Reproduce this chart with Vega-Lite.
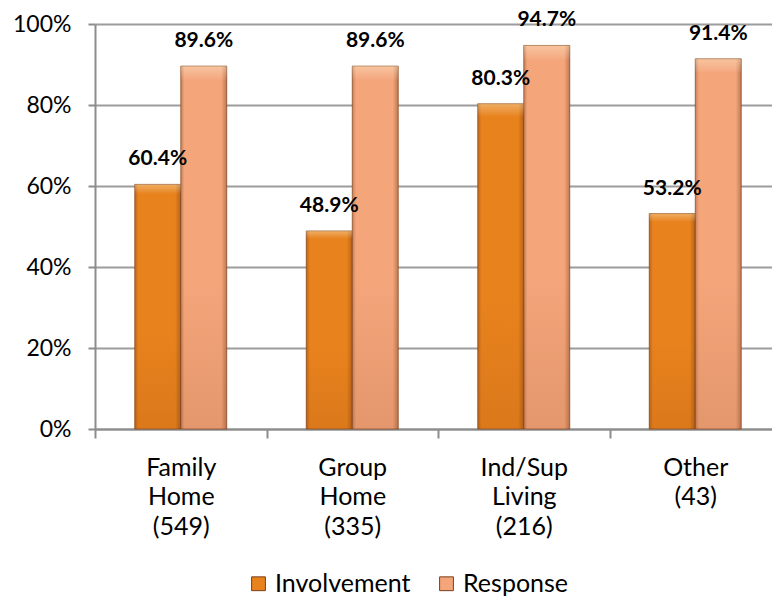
{
  "$schema": "https://vega.github.io/schema/vega-lite/v6.json",
  "width": 677,
  "height": 405,
  "autosize": {"type": "none"},
  "padding": {"left": 95, "top": 24, "right": 0, "bottom": 168},
  "background": "white",
  "config": {
    "font": "Lato",
    "view": {"stroke": null}
  },
  "data": {
    "values": [
      {"group": "Family Home (549)", "series": "Involvement", "value": 0.604},
      {"group": "Family Home (549)", "series": "Response", "value": 0.896},
      {"group": "Group Home (335)", "series": "Involvement", "value": 0.489},
      {"group": "Group Home (335)", "series": "Response", "value": 0.896},
      {"group": "Ind/Sup Living (216)", "series": "Involvement", "value": 0.803},
      {"group": "Ind/Sup Living (216)", "series": "Response", "value": 0.947},
      {"group": "Other (43)", "series": "Involvement", "value": 0.532},
      {"group": "Other (43)", "series": "Response", "value": 0.914}
    ]
  },
  "encoding": {
    "x": {
      "field": "group",
      "type": "nominal",
      "sort": null,
      "title": null,
      "scale": {"range": [0, 686], "paddingInner": 0, "paddingOuter": 0},
      "axis": {
        "labelAngle": 0,
        "labelExpr": "split(datum.label, ' ')",
        "labelFontSize": 25,
        "labelColor": "#000000",
        "labelLineHeight": 29.5,
        "labelBaseline": "top",
        "labelPadding": 17,
        "tickBand": "extent",
        "tickSize": 9,
        "tickWidth": 2,
        "tickColor": "#8c8c8c",
        "domainColor": "#8c8c8c",
        "domainWidth": 2,
        "grid": false
      }
    },
    "xOffset": {"field": "series", "type": "nominal", "scale": {"paddingInner": 0, "paddingOuter": 0.864}},
    "y": {
      "field": "value",
      "type": "quantitative",
      "title": null,
      "scale": {"domain": [0, 1], "nice": false},
      "axis": {
        "values": [0, 0.2, 0.4, 0.6, 0.8, 1],
        "format": ".0%",
        "labelFontSize": 23,
        "labelColor": "#000000",
        "labelPadding": 17,
        "tickSize": 7,
        "tickWidth": 2,
        "tickColor": "#8c8c8c",
        "domainColor": "#8c8c8c",
        "domainWidth": 2,
        "gridColor": "#9c9c9c",
        "gridWidth": 2
      }
    }
  },
  "layer": [
    {
      "mark": {"type": "bar", "stroke": "#8a4a22", "strokeWidth": 1, "strokeOpacity": 0.7},
      "encoding": {
        "color": {
          "field": "series",
          "type": "nominal",
          "title": null,
          "scale": {"domain": ["Involvement", "Response"], "range": ["#E8821D", "#F4A57A"]},
          "legend": {
            "orient": "none",
            "direction": "horizontal",
            "legendX": 151,
            "legendY": 547,
            "symbolType": "square",
            "symbolSize": 190,
            "symbolStrokeColor": "#7a3e1c",
            "symbolStrokeWidth": 1,
            "labelFontSize": 25,
            "labelColor": "#000000",
            "labelOffset": 4,
            "columnPadding": 23
          }
        }
      }
    },
    {
      "mark": {
        "type": "bar",
        "fill": {
          "gradient": "linear",
          "x1": 0, "y1": 0, "x2": 1, "y2": 0,
          "stops": [
            {"offset": 0, "color": "rgba(90,40,10,0.30)"},
            {"offset": 0.08, "color": "rgba(90,40,10,0.0)"},
            {"offset": 0.88, "color": "rgba(90,40,10,0.0)"},
            {"offset": 1, "color": "rgba(90,40,10,0.35)"}
          ]
        }
      }
    },
    {
      "mark": {
        "type": "bar",
        "fill": {
          "gradient": "linear",
          "x1": 0, "y1": 0, "x2": 0, "y2": 1,
          "stops": [
            {"offset": 0, "color": "rgba(255,255,220,0.35)"},
            {"offset": 0.04, "color": "rgba(255,255,255,0.0)"},
            {"offset": 0.6, "color": "rgba(120,50,10,0.0)"},
            {"offset": 1, "color": "rgba(120,50,10,0.12)"}
          ]
        }
      }
    },
    {
      "mark": {"type": "text", "fontWeight": "bold", "fontSize": 21, "baseline": "alphabetic", "dy": -19, "color": "#000000"},
      "encoding": {
        "text": {"field": "value", "type": "quantitative", "format": ".1%"}
      }
    }
  ]
}
